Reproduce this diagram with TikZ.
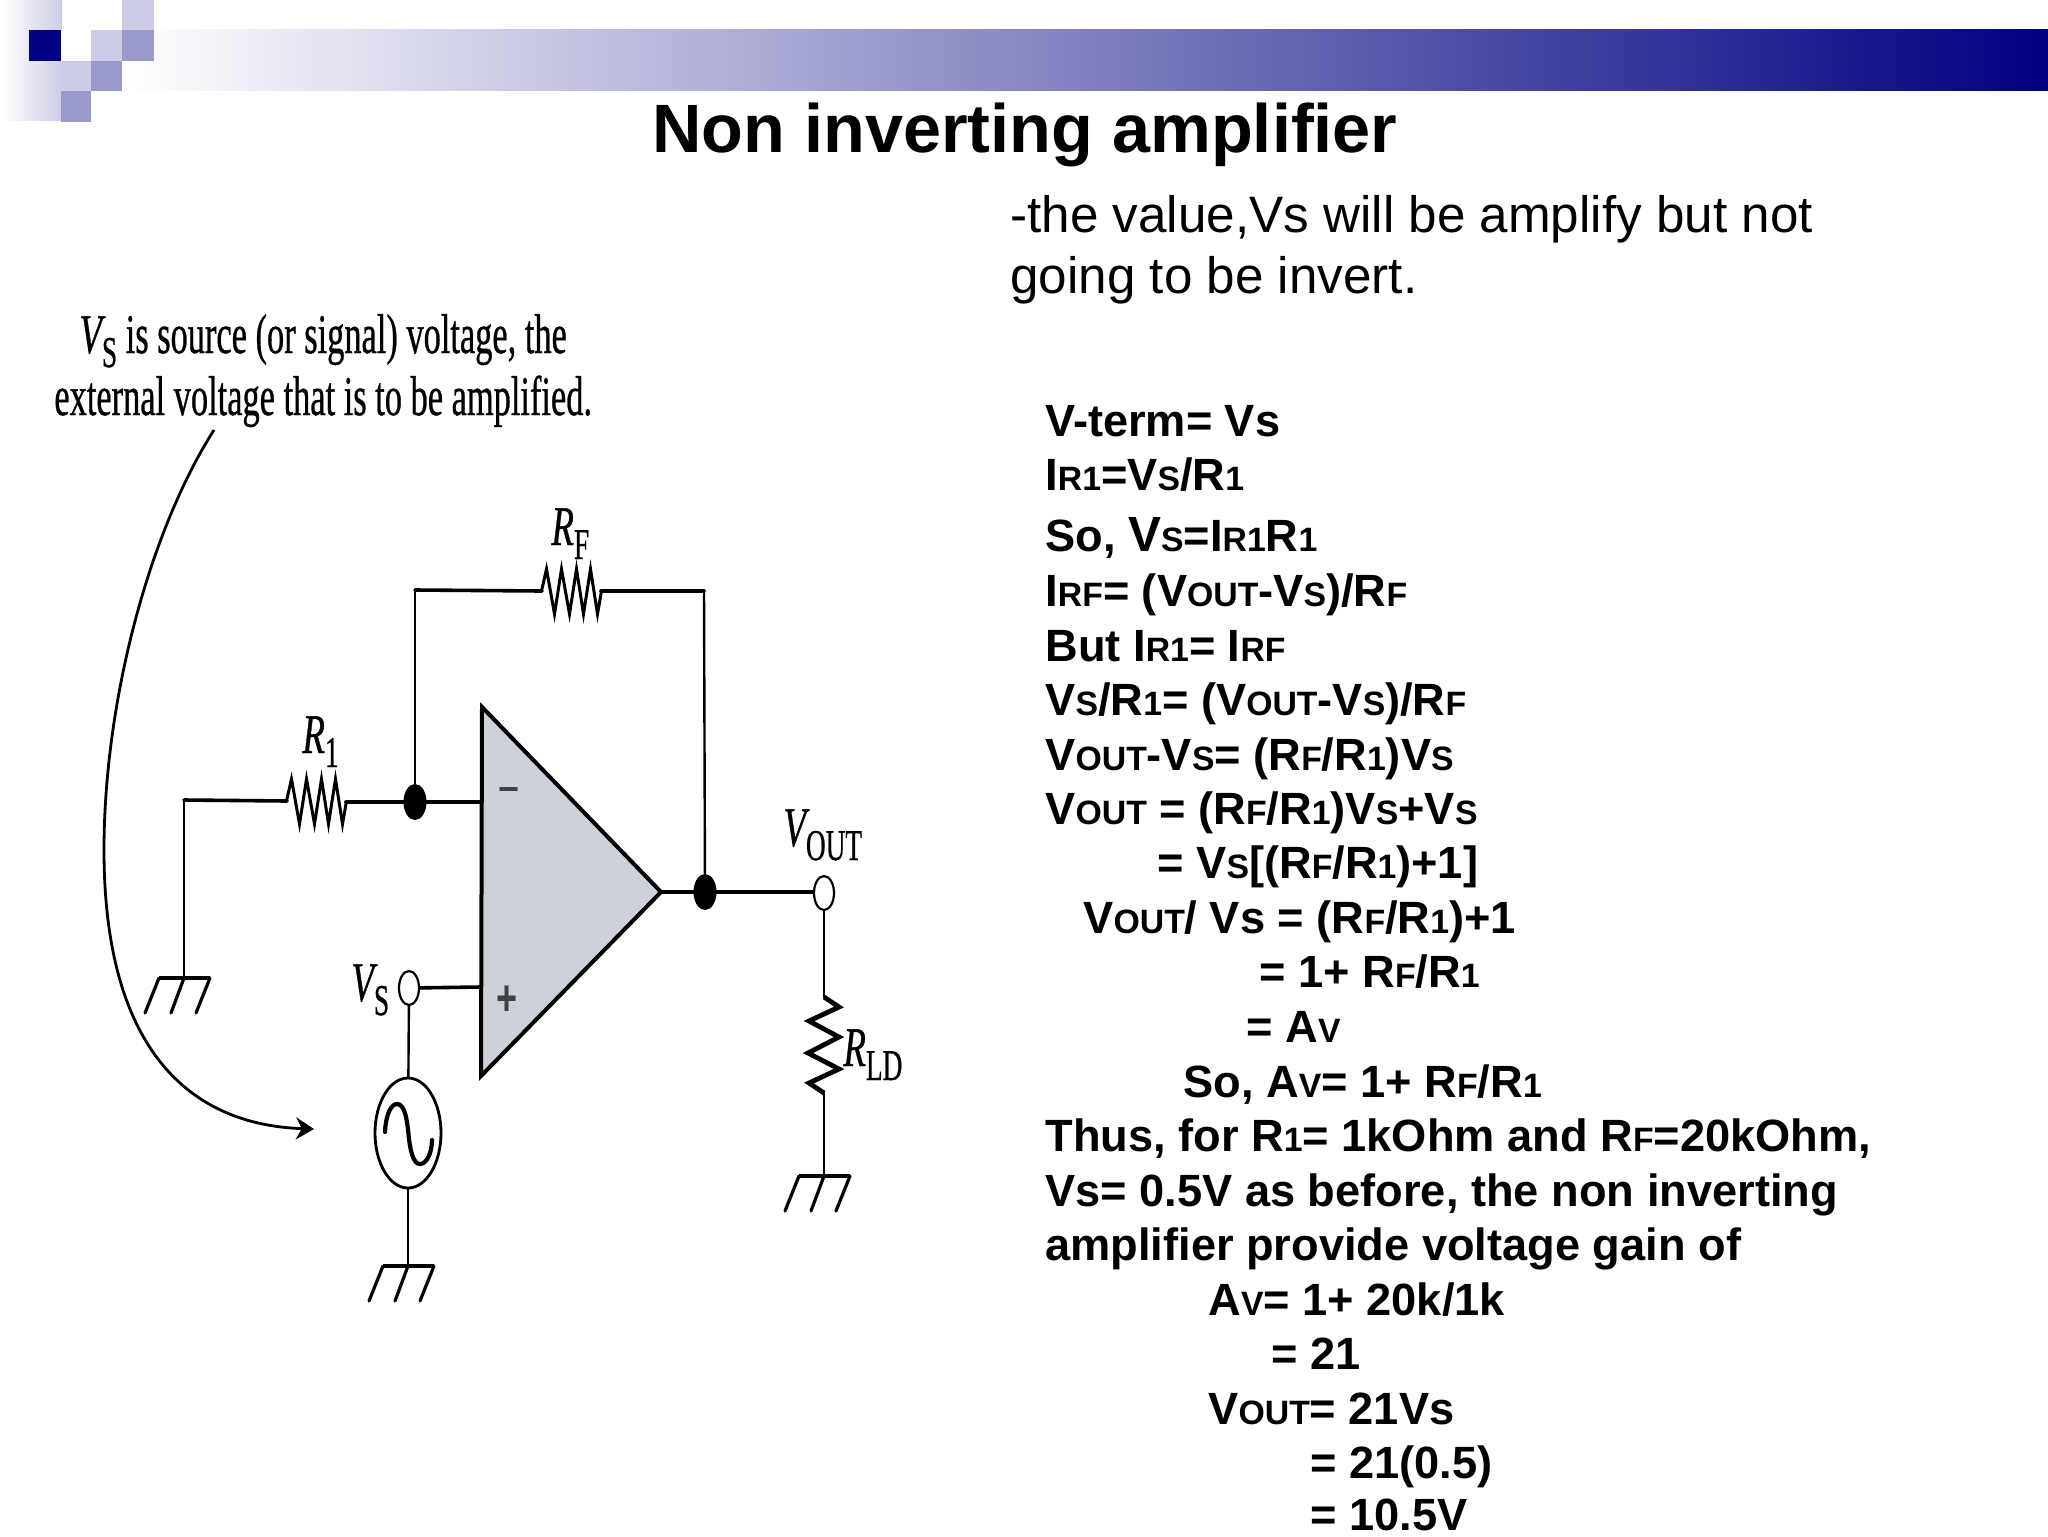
\documentclass[tikz,border=0pt]{standalone}
\usepackage{fontspec}
\usepackage{graphicx}
\setmainfont{Liberation Sans}
\newfontfamily\capfont[FakeBold=0.8]{Liberation Serif}
\usetikzlibrary{arrows.meta,shapes.geometric}
\definecolor{navyb}{HTML}{000080}
\definecolor{lightb}{HTML}{CCCCE6}
\definecolor{midb}{HTML}{9999CC}
\definecolor{ampfill}{HTML}{CDD1DA}
\pgfdeclarehorizontalshading{bandsh}{100bp}{color(0bp)=(white); color(25bp)=(white); color(75bp)=(navyb); color(100bp)=(navyb)}
\newcommand\sm[1]{{\fontsize{16.9}{20}\selectfont #1}}
\newcommand\bigv[1]{{\fontsize{24.7}{28}\selectfont #1}}
% circuit label: main letter + subscript
\newcommand\cmain[1]{\scalebox{.66}[1]{\capfont\fontsize{28}{30}\selectfont\itshape #1}}
\newcommand\csub[1]{\smash{\raisebox{-7pt}{\scalebox{.62}[1]{\capfont\fontsize{22}{24}\selectfont #1}}}}
\newcommand\captext[1]{\scalebox{.614}[1]{\capfont\fontsize{28}{30}\selectfont #1}}
\tikzset{
  x=0.5pt,y=-0.5pt,
  eq/.style={anchor=base west,inner sep=0pt,font=\bfseries\fontsize{22.6}{26}\selectfont},
  body/.style={anchor=base west,inner sep=0pt,font=\fontsize{25.6}{30}\selectfont},
  captxt/.style={anchor=base west,inner sep=0pt},
  clab/.style={anchor=base west,inner sep=0pt},
  sign/.style={inner sep=0pt,font=\bfseries\fontsize{18}{20}\selectfont,text=black!75},
  wireh/.style={line width=1.8pt,line cap=round},
  wirev/.style={line width=1.2pt,line cap=round},
  zig/.style={line width=1.5pt,line join=miter},
  juncdot/.style={shape=ellipse,fill=black,draw=none,minimum width=11.5pt,minimum height=18pt,inner sep=0pt},
  termo/.style={shape=ellipse,fill=white,draw=black,line width=1.1pt,minimum width=10pt,minimum height=17pt,inner sep=0pt},
  gndsym/.pic={
    \draw[line width=2.2pt] (-25,0) -- (26,0);
    \draw[line width=1.6pt,line cap=round] (-25,0) -- (-39,35) (0,0) -- (-13,35) (26,0) -- (12,35);
  },
  hres/.pic={
    \draw[zig] (-30,0) -- (-25,-22) -- (-17,23) -- (-10,-22) -- (-2,23) -- (5,-22) -- (12,23) -- (19,-22) -- (26,23) -- (30,0);
  },
  vres/.pic={
    \draw[line width=2.4pt,line join=miter] (0,-48) -- (15,-38) -- (-15,-24) -- (15,-8) -- (-16,8) -- (15,24) -- (-15,38) -- (0,48);
  }
}
\begin{document}
\begin{tikzpicture}
\useasboundingbox (0,0) rectangle (2048,1536);
% header decoration
\shade[left color=white,right color=lightb,draw=none] (3,0) rectangle (62,120);
\shade[shading=bandsh] (122,30) rectangle (2048,91);
\fill[navyb] (29,30) rectangle (61,61);
\fill[white] (61,30) rectangle (91,61);
\fill[lightb] (91,30) rectangle (122,61);
\fill[midb] (122,30) rectangle (154,61);
\fill[lightb] (122,0) rectangle (154,30);
\fill[lightb] (61,61) rectangle (91,91);
\fill[midb] (91,61) rectangle (122,91);
\fill[midb] (61,91) rectangle (91,122);
% title
\node[anchor=base,inner sep=0pt,font=\bfseries\fontsize{34.2}{36}\selectfont] (title) at (1025,152) {Non inverting amplifier};
% body text
\node[body] (b1) at (1010,232) {-the value,Vs will be amplify but not};
\node[body] (b2) at (1010,293) {going to be invert.};
% equations
\node[eq] (e1) at (1045,436) {V-term= Vs};
\node[eq] (e2) at (1045,490) {I\sm{R1}=V\sm{S}/R\sm{1}};
\node[eq] (e3) at (1045,551) {So, \bigv{V}\sm{S}=I\sm{R1}R\sm{1}};
\node[eq] (e4) at (1045,606) {I\sm{RF}= (V\sm{OUT}-V\sm{S})/R\sm{F}};
\node[eq] (e5) at (1045,661) {But I\sm{R1}= I\sm{RF}};
\node[eq] (e6) at (1045,715) {V\sm{S}/R\sm{1}= (V\sm{OUT}-V\sm{S})/R\sm{F}};
\node[eq] (e7) at (1045,770) {V\sm{OUT}-V\sm{S}= (R\sm{F}/R\sm{1})V\sm{S}};
\node[eq] (e8) at (1045,824) {V\sm{OUT} = (R\sm{F}/R\sm{1})V\sm{S}+V\sm{S}};
\node[eq] (e9) at (1157,878) {= V\sm{S}[(R\sm{F}/R\sm{1})+1]};
\node[eq] (e10) at (1083,933) {V\sm{OUT}/ Vs = (R\sm{F}/R\sm{1})+1};
\node[eq] (e11) at (1259,987) {= 1+ R\sm{F}/R\sm{1}};
\node[eq] (e12) at (1246,1042) {= A\sm{V}};
\node[eq] (e13) at (1183,1097) {So, A\sm{V}= 1+ R\sm{F}/R\sm{1}};
\node[eq] (e14) at (1045,1151) {Thus, for R\sm{1}= 1kOhm and R\sm{F}=20kOhm,};
\node[eq] (e15) at (1045,1206) {Vs= 0.5V as before, the non inverting};
\node[eq] (e16) at (1045,1260) {amplifier provide voltage gain of};
\node[eq] (e17) at (1208,1315) {A\sm{V}= 1+ 20k/1k};
\node[eq] (e18) at (1271,1369) {= 21};
\node[eq] (e19) at (1208,1424) {V\sm{OUT}= 21Vs};
\node[eq] (e20) at (1310,1478) {= 21(0.5)};
\node[eq] (e21) at (1310,1530) {= 10.5V};
% caption
\node[captxt] (cap1) at (79,353) {\cmain{V}\csub{S}\captext{\ is source (or signal) voltage, the}};
\node[captxt] (cap2) at (54,415) {\captext{external voltage that is to be amplified.}};
% circuit coordinates
\coordinate (ta) at (482,707);
\coordinate (tb) at (481,1076);
\coordinate (tc) at (661,892);
\coordinate (corner1) at (184,800);
\coordinate (g1) at (184,978);
\coordinate (r1a) at (287,801);
\coordinate (r1b) at (346,802);
\coordinate (invin) at (481,802);
\coordinate (ftl) at (415,590);
\coordinate (rfa) at (542,591);
\coordinate (rfb) at (601,591);
\coordinate (ftr) at (704,591);
\coordinate (nonin) at (481,987);
\coordinate (g2) at (408,1266);
\coordinate (rlda) at (824,997);
\coordinate (rldb) at (824,1093);
\coordinate (g3) at (824,1176);
\coordinate (arrS) at (214,430);
\coordinate (arrM) at (104,850);
\coordinate (arrE) at (314,1129);
% op amp
\draw[fill=ampfill,line width=2pt,line join=miter] (ta) -- (tc) -- (tb) -- cycle;
\node[sign] (minus) at (509,795) {−};
\node[sign,yscale=1.4,transform shape] (plus) at (507,1001) {+};
% wires
\draw[wirev] (g1) -- (corner1);
\draw[wireh] (corner1) -- (r1a);
\pic at (316.5,801) {hres};
\draw[wireh] (r1b) -- (invin);
\draw[wirev] (invin -| ftl) -- (ftl);
\draw[wireh] (ftl) -- (rfa);
\pic at (571.5,591) {hres};
\draw[wireh] (rfb) -- (ftr);
\draw[wirev] (ftr) -- (705,892);
\draw[wireh] (tc) -- (824,892);
\draw[wirev] (824,893) -- (rlda);
\pic at (824,1045) {vres};
\draw[wirev] (rldb) -- (g3);
\draw[wireh] (409,988) -- (nonin);
\draw[wirev] (409,988) -- (408,1133);
\draw[wirev] (408,1133) -- (g2);
% junctions and terminals
\node[juncdot] (n1) at (415,802) {};
\node[juncdot] (n2) at (705,892) {};
\node[termo] (tout) at (824,893) {};
\node[termo] (tvs) at (409,988) {};
\node[shape=ellipse,draw=black,fill=white,line width=1.4pt,minimum width=33pt,minimum height=55pt,inner sep=0pt] (src) at (408,1133) {};
% sine
\draw[line width=2.1pt,line cap=round] (385,1132) .. controls (386,1112) and (392,1104) .. (397,1104) .. controls (405,1104) and (407,1120) .. (408.5,1134) .. controls (410,1150) and (413,1164) .. (420,1164) .. controls (427,1164) and (432,1152) .. (432,1140);
\pic at (g1) {gndsym};
\pic at (g2) {gndsym};
\pic at (g3) {gndsym};
% labels
\node[clab] (lrf) at (551,545) {\cmain{R}\csub{F}};
\node[clab] (lr1) at (302,753) {\cmain{R}\csub{1}};
\node[clab] (lvo) at (783,846) {\cmain{V}\csub{OUT}};
\node[clab] (lvs) at (351,1001) {\cmain{V}\csub{S}};
\node[clab] (lrl) at (843,1066) {\cmain{R}\csub{LD}};
% arrow
\draw[line width=1.4pt,-{Stealth[length=9pt,width=11pt]}] (arrS) .. controls (150,530) and (104,700) .. (arrM) .. controls (104,1050) and (190,1125) .. (arrE);
\end{tikzpicture}
\end{document}
